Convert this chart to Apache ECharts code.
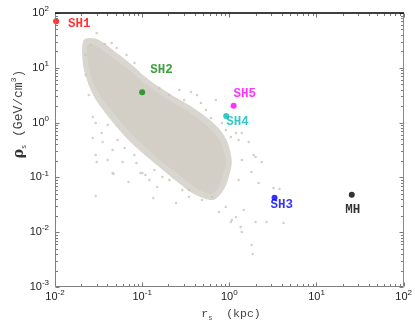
<!DOCTYPE html>
<html><head><meta charset="utf-8">
<script src="https://cdn.jsdelivr.net/npm/echarts/dist/echarts.min.js"></script>
<style>html,body{margin:0;padding:0;background:#fff}#c{width:415px;height:322px}</style>
</head><body><div id="c"></div>
<script>
// ---- data ----
const haloNames = ['SH1', 'SH2', 'SH3', 'SH4', 'SH5', 'MH'];
const haloRs    = [0.0103, 0.100, 3.30, 0.92, 1.12, 25.4];
const haloRho   = [71, 3.57, 0.0427, 1.32, 2.03, 0.048];

// dense core of the simulated sub-halo cloud (outline)
const cloudCoreRs  = [0.0238, 0.030, 0.0458, 0.0662, 0.1007, 0.145, 0.221, 0.345, 0.539, 0.701, 0.823, 0.912, 0.823, 0.759, 0.615, 0.415, 0.266, 0.170, 0.112, 0.0717, 0.0458, 0.0326, 0.0264, 0.0238];
const cloudCoreRho = [26, 25, 15.1, 9.9, 5.5, 3.6, 2.38, 1.56, 0.904, 0.594, 0.39, 0.191, 0.0975, 0.0697, 0.0498, 0.064, 0.111, 0.191, 0.344, 0.673, 1.56, 3.19, 6.5, 12.8];

// thinner fringe around the core (outline)
const cloudFringeRs  = [0.0214, 0.0301, 0.0495, 0.0717, 0.109, 0.157, 0.239, 0.374, 0.600, 0.80, 0.962, 1.067, 0.962, 0.843, 0.649, 0.393, 0.245, 0.157, 0.1007, 0.0644, 0.0402, 0.0286, 0.0232, 0.0208];
const cloudFringeRho = [32.2, 33.5, 19.4, 12.2, 6.79, 4.46, 2.93, 1.93, 1.11, 0.703, 0.425, 0.191, 0.0897, 0.0565, 0.0387, 0.0498, 0.0859, 0.155, 0.279, 0.546, 1.32, 2.81, 5.99, 12.8];

// sparse cloud points outside the core
const cloudRs  = [0.0301, 0.0446, 0.0509, 0.0662, 0.0816, 0.266, 0.364, 0.427, 0.701, 0.473, 0.539, 0.615, 0.823, 0.912, 1.04, 1.19, 1.39, 1.67, 1.28, 2.00, 2.35, 1.90, 1.39, 1.80, 1.28, 2.17, 3.21, 3.76, 1.07, 1.35, 1.39, 1.80, 1.85, 2.00, 2.67, 4.18, 1.46, 0.912, 1.04, 1.19, 0.759, 0.632, 0.486, 0.345, 0.288, 0.245, 0.134, 0.149, 0.170, 0.121, 0.1007, 0.0859, 0.0697, 0.0596, 0.0458, 0.0458, 0.0402, 0.0301, 0.0293, 0.0352, 0.0344, 0.0271, 0.0293, 0.0271, 0.0293, 0.0470, 0.0955, 0.109, 0.0225, 0.0225, 0.0244, 0.0257, 0.0372, 0.157, 0.303, 0.205, 0.0522, 0.0628, 0.0816, 0.138, 0.205, 0.345, 0.0402];
const cloudRho = [43.2, 28.4, 23.0, 17.1, 12.2, 3.94, 3.61, 3.19, 2.58, 2.28, 1.70, 1.21, 0.985, 0.733, 0.546, 0.646, 0.646, 0.443, 0.481, 0.235, 0.191, 0.256, 0.208, 0.126, 0.0897, 0.0791, 0.0641, 0.0614, 0.0167, 0.0124, 0.0101, 0.00583, 0.0040, 0.0153, 0.0153, 0.0147, 0.0254, 0.0288, 0.0153, 0.0189, 0.0234, 0.0438, 0.0387, 0.0438, 0.0589, 0.0341, 0.0421, 0.0668, 0.1016, 0.0897, 0.120, 0.183, 0.0824, 0.191, 0.120, 0.316, 0.208, 0.191, 0.256, 0.443, 0.646, 0.524, 0.985, 1.26, 0.0458, 0.115, 0.120, 0.111, 17.1, 7.4, 3.19, 26.1, 27.2, 4.27, 2.58, 3.19, 0.481, 0.344, 0.256, 0.136, 0.0897, 0.0589, 0.904];

const xTicks = [0.01, 0.1, 1, 10, 100];
const xTickExp = ['-2', '-1', '0', '1', '2'];
const yTicks = [0.001, 0.01, 0.1, 1, 10, 100];
const yTickExp = ['-3', '-2', '-1', '0', '1', '2'];

// ---- styling ----
const haloStyle = {
  SH1: {color: '#ff0000', align: 'left', offset: [12, 3]},
  SH2: {color: '#0a8a0a', align: 'left', offset: [8, -22.5]},
  SH3: {color: '#0000ff', align: 'left', offset: [-4, 7.5]},
  SH4: {color: '#00bcbc', align: 'left', offset: [0, 6]},
  SH5: {color: '#ff00ff', align: 'left', offset: [0, -12]},
  MH:  {color: '#000000', align: 'center', offset: [1, 14.5]}
};
const cloudColor = '#d3cfc7';
const fringeColor = '#d9d6cf';

const chart = echarts.init(document.getElementById('c'), null, {renderer: 'canvas'});

function expFor(list, exps, v) {
  let best = 0, bd = Infinity;
  list.forEach((t, i) => { const d = Math.abs(Math.log10(t) - Math.log10(v)); if (d < bd) { bd = d; best = i; } });
  return exps[best];
}

const tickRich = {
  b: {fontSize: 11, fontFamily: 'Liberation Sans', color: '#222', lineHeight: 16},
  s: {fontSize: 8, fontFamily: 'Liberation Sans', color: '#222', lineHeight: 8, verticalAlign: 'top'}
};

function frameRender(params, api) {
  if (params.dataIndex !== 0) return;
  const bl = api.coord([xTicks[0], yTicks[0]]);
  const tr = api.coord([xTicks[xTicks.length - 1], yTicks[yTicks.length - 1]]);
  const L = Math.round(bl[0]) + 0.5, B = Math.round(bl[1]) - 0.5, R = Math.round(tr[0]) - 0.5, T = Math.round(tr[1]) + 0.5;
  const ch = [];
  const ln = (x1, y1, x2, y2, c, w) => ch.push({type: 'line', shape: {x1, y1, x2, y2}, style: {stroke: c, lineWidth: w || 1}});
  const tc = '#7a7a7a';
  for (let i = 0; i < xTicks.length; i++) {
    const p = Math.round(api.coord([xTicks[i], yTicks[0]])[0]) + 0.5;
    ln(p, B, p, B - 4, tc); ln(p, T, p, T + 4, tc);
    if (i < xTicks.length - 1) for (let m = 2; m <= 9; m++) {
      const q = Math.round(api.coord([xTicks[i] * m, yTicks[0]])[0]) + 0.5;
      ln(q, B, q, B - 2.5, tc); ln(q, T, q, T + 2.5, tc);
    }
  }
  for (let i = 0; i < yTicks.length; i++) {
    const p = Math.round(api.coord([xTicks[0], yTicks[i]])[1]) + 0.5;
    ln(L, p, L + 4, p, tc); ln(R, p, R - 4, p, tc);
    if (i < yTicks.length - 1) for (let m = 2; m <= 9; m++) {
      const q = Math.round(api.coord([xTicks[0], yTicks[i] * m])[1]) + 0.5;
      ln(L, q, L + 2.5, q, tc); ln(R, q, R - 2.5, q, tc);
    }
  }
  ln(L, B, R, B, '#808080'); ln(L, B, L, T, '#808080'); ln(R, B, R, T, '#8a8a8a');
  ln(L - 0.5, T - 0.5, R + 0.5, T - 0.5, '#000', 1.6);
  return {type: 'group', children: ch};
}

function polyRender(xs, ys, color) {
  return function (params, api) {
    if (params.dataIndex !== 0) return;
    const pts = xs.map((r, i) => api.coord([r, ys[i]]));
    return {type: 'polygon', shape: {points: pts, smooth: 0.3}, style: {fill: color, stroke: null}};
  };
}

const option = {
  animation: false,
  backgroundColor: '#fff',
  grid: {left: 55, right: 9, top: 13, bottom: 35},
  xAxis: {
    type: 'log', logBase: 10, min: 0.01, max: 100,
    axisLine: {show: false}, axisTick: {show: false}, splitLine: {show: false}, minorTick: {show: false},
    axisLabel: {margin: 2, showMinLabel: true, showMaxLabel: true,
      formatter: v => '{b|10}{s|' + expFor(xTicks, xTickExp, v) + '}', rich: tickRich}
  },
  yAxis: {
    type: 'log', logBase: 10, min: 0.001, max: 100,
    axisLine: {show: false}, axisTick: {show: false}, splitLine: {show: false}, minorTick: {show: false},
    axisLabel: {margin: 6, showMinLabel: true, showMaxLabel: true,
      formatter: v => '{b|10}{s|' + expFor(yTicks, yTickExp, v) + '}', rich: tickRich}
  },
  graphic: [
    {type: 'text', x: 19, y: 114, rotation: Math.PI / 2, z: 10,
      style: {text: '{r|ρ}{s|s}{t| (GeV/cm}{p|3}{t|)}', align: 'center', verticalAlign: 'middle',
        rich: {
          r: {fontSize: 14, fontFamily: 'DejaVu Serif', fontWeight: 'bold', fill: '#333', color: '#333', lineHeight: 18},
          s: {fontSize: 7, fontFamily: 'Liberation Mono', fill: '#444', color: '#444', lineHeight: 7, verticalAlign: 'bottom'},
          t: {fontSize: 13, fontFamily: 'Liberation Mono', fill: '#444', color: '#444', lineHeight: 18},
          p: {fontSize: 8, fontFamily: 'Liberation Mono', fill: '#444', color: '#444', lineHeight: 8, verticalAlign: 'top'}
        }}},
    {type: 'text', x: 231, y: 314, z: 10,
      style: {text: '{t|r}{s|s}{t|  (kpc)}', align: 'center', verticalAlign: 'middle',
        rich: {
          t: {fontSize: 11.5, fontFamily: 'Liberation Mono', fill: '#444', color: '#444', lineHeight: 16},
          s: {fontSize: 7, fontFamily: 'Liberation Mono', fill: '#444', color: '#444', lineHeight: 7, verticalAlign: 'bottom'}
        }}}
  ],
  series: [
    {type: 'custom', name: 'cloud-fringe', coordinateSystem: 'cartesian2d', z: 1, clip: true, silent: true,
      data: cloudFringeRs.map((r, i) => [r, cloudFringeRho[i]]), renderItem: polyRender(cloudFringeRs, cloudFringeRho, fringeColor)},
    {type: 'custom', name: 'cloud-core', coordinateSystem: 'cartesian2d', z: 2, clip: true, silent: true,
      data: cloudCoreRs.map((r, i) => [r, cloudCoreRho[i]]), renderItem: polyRender(cloudCoreRs, cloudCoreRho, cloudColor)},
    {type: 'scatter', name: 'cloud', z: 3, symbolSize: 2.5, silent: true,
      itemStyle: {color: '#c8c4bc'},
      data: cloudRs.map((r, i) => [r, cloudRho[i]])},
    {type: 'scatter', name: 'halos', z: 5, symbolSize: 6, silent: true,
      data: haloNames.map((n, i) => ({
        value: [haloRs[i], haloRho[i]],
        itemStyle: {color: haloStyle[n].color},
        label: {show: true, position: 'inside', formatter: n, align: haloStyle[n].align, verticalAlign: 'middle',
          offset: haloStyle[n].offset, color: haloStyle[n].color, fontFamily: 'Liberation Mono', fontWeight: 'bold', fontSize: 12.5}
      }))},
    {type: 'custom', name: 'frame', coordinateSystem: 'cartesian2d', z: 10, clip: false, silent: true,
      data: [[xTicks[0], yTicks[0]]], renderItem: frameRender}
  ]
};
chart.setOption(option);
</script></body></html>
